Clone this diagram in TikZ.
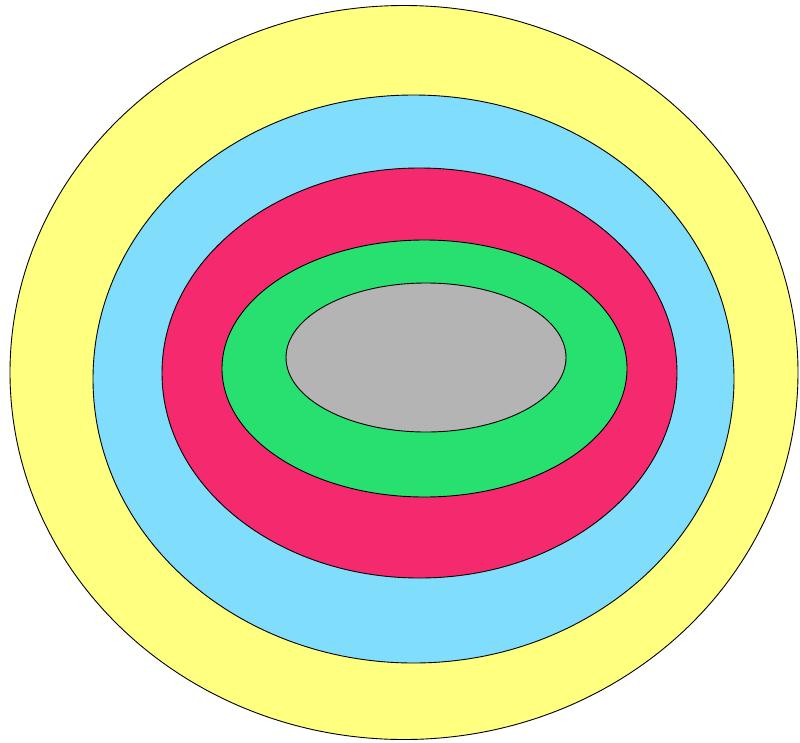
\documentclass[tikz,border=0pt]{standalone}
\begin{document}
\begin{tikzpicture}[x=1pt,y=-1pt,
  ring/.style={draw=black,line width=0.9pt}]
\definecolor{cyel}{RGB}{255,255,128}
\definecolor{cblu}{RGB}{128,222,252}
\definecolor{cred}{RGB}{245,42,110}
\definecolor{cgrn}{RGB}{40,224,112}
\definecolor{cgry}{RGB}{180,180,180}
\useasboundingbox[fill=white] (0,0) rectangle (800,742);
\draw[ring,fill=cyel] (404,372.5) ellipse [x radius=394, y radius=367];
\draw[ring,fill=cblu] (413.5,379) ellipse [x radius=320.5, y radius=284];
\draw[ring,fill=cred] (419.5,373) ellipse [x radius=257.5, y radius=205];
\draw[ring,fill=cgrn] (424.5,368.5) ellipse [x radius=202.5, y radius=128.5];
\draw[ring,fill=cgry] (426,357.5) ellipse [x radius=140, y radius=74.5];
\end{tikzpicture}
\end{document}
